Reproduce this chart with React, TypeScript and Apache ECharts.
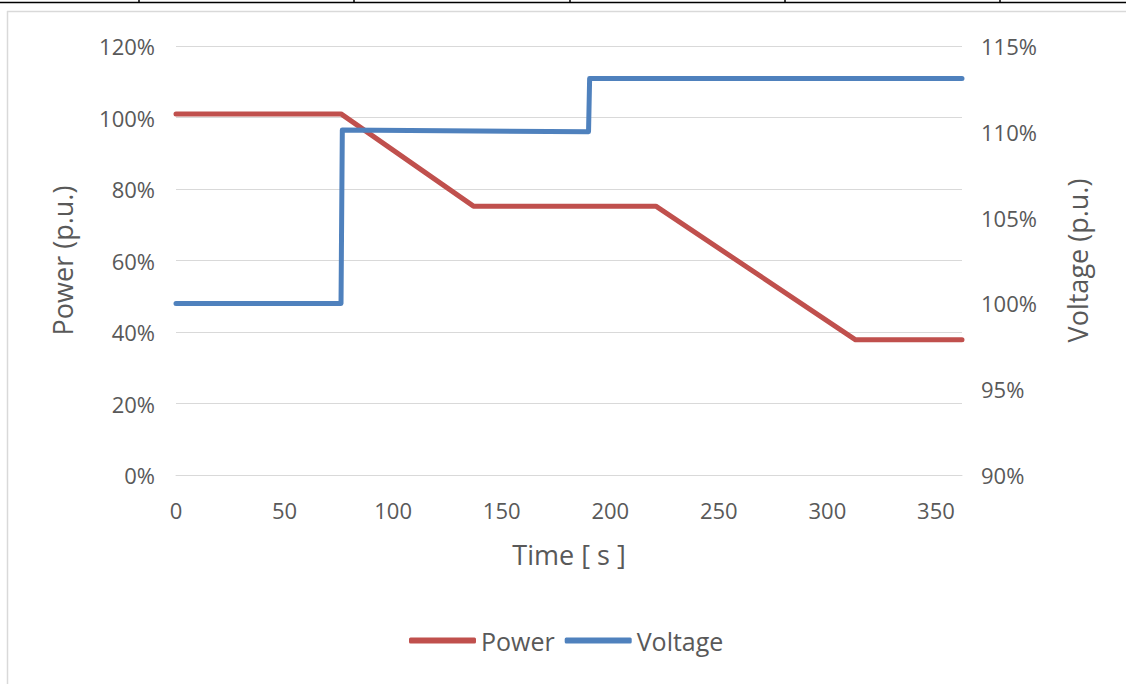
import React, { useEffect, useRef } from "react";
import * as echarts from "echarts";

const xTicks = [0, 50, 100, 150, 200, 250, 300, 350];
const powerTime = [0, 76, 137, 221, 313, 362];
const powerValues = [101, 101, 75.2, 75.2, 37.8, 37.8];
const voltageTime = [0, 76, 76.6, 190, 190.5, 362];
const voltageValues = [100, 100, 110.1, 110, 113.1, 113.1];
const powerTicks = [0, 20, 40, 60, 80, 100, 120];
const voltageTicks = [90, 95, 100, 105, 110, 115];

const FONT = "'Open Sans', sans-serif";
const TEXT = "#595959";
const GRID = "#D9D9D9";

export default function App() {
  const ref = useRef<HTMLDivElement>(null);
  useEffect(() => {
    if (!ref.current) return;
    const chart = echarts.init(ref.current, undefined, { renderer: "svg" });
    const power = powerTime.map((t, i) => [t, powerValues[i]]);
    const voltage = voltageTime.map((t, i) => [t, voltageValues[i]]);
    const tableX = [139, 354, 570, 785, 1000];
    chart.setOption({
      animation: false,
      backgroundColor: "#ffffff",
      textStyle: { fontFamily: FONT },
      graphic: [
        {
          type: "line",
          shape: { x1: 7, y1: 11.5, x2: 1126, y2: 11.5 },
          style: { stroke: "#D9D9D9", lineWidth: 1.5 },
          silent: true,
        },
        {
          type: "line",
          shape: { x1: 7.5, y1: 11, x2: 7.5, y2: 684 },
          style: { stroke: "#D9D9D9", lineWidth: 1.5 },
          silent: true,
        },
        {
          type: "line",
          shape: { x1: 0, y1: 2.5, x2: 1126, y2: 2.5 },
          style: { stroke: "#000", lineWidth: 1.5 },
          silent: true,
        },
        ...tableX.map((x) => ({
          type: "line",
          shape: { x1: x, y1: 0, x2: x, y2: 3 },
          style: { stroke: "#000", lineWidth: 1.5 },
          silent: true,
        })),
      ],
      grid: { left: 176, right: 164, top: 46, bottom: 209, containLabel: false },
      legend: {
        left: 404,
        top: 623,
        icon: "roundRect",
        itemWidth: 67,
        itemHeight: 6,
        itemGap: 10,
        textStyle: { color: TEXT, fontSize: 25, fontFamily: FONT },
        data: ["Power", "Voltage"],
      },
      xAxis: {
        type: "value",
        min: 0,
        max: 362,
        interval: 50,
        name: "Time [ s ]",
        nameLocation: "middle",
        nameGap: 66,
        nameTextStyle: { color: TEXT, fontSize: 27, fontFamily: FONT },
        axisLine: { show: true, lineStyle: { color: GRID, width: 1 } },
        axisTick: { show: false },
        splitLine: { show: false },
        axisLabel: {
          color: TEXT,
          fontSize: 22,
          fontFamily: FONT,
          margin: 24,
          showMaxLabel: false,
          formatter: (v: number) => (xTicks.includes(v) ? String(v) : ""),
        },
      },
      yAxis: [
        {
          type: "value",
          min: powerTicks[0],
          max: powerTicks[powerTicks.length - 1],
          interval: 20,
          name: "Power (p.u.)",
          nameLocation: "middle",
          nameGap: 100,
          nameTextStyle: { color: TEXT, fontSize: 27, fontFamily: FONT },
          axisLine: { show: false },
          axisTick: { show: false },
          splitLine: { show: true, lineStyle: { color: GRID, width: 1 } },
          axisLabel: {
            color: TEXT,
            fontSize: 22,
            fontFamily: FONT,
            margin: 21,
            formatter: (v: number) => `${v}%`,
          },
        },
        {
          type: "value",
          min: voltageTicks[0],
          max: voltageTicks[voltageTicks.length - 1],
          interval: 5,
          name: "Voltage (p.u.)",
          nameLocation: "middle",
          nameGap: 102,
          nameTextStyle: { color: TEXT, fontSize: 27, fontFamily: FONT },
          axisLine: { show: false },
          axisTick: { show: false },
          splitLine: { show: false },
          axisLabel: {
            color: TEXT,
            fontSize: 22,
            fontFamily: FONT,
            margin: 19,
            formatter: (v: number) => `${v}%`,
          },
        },
      ],
      series: [
        {
          name: "Power",
          type: "line",
          yAxisIndex: 0,
          data: power,
          showSymbol: false,
          symbol: "none",
          color: "#C0504D",
          lineStyle: { color: "#C0504D", width: 5, cap: "round", join: "round" },
        },
        {
          name: "Voltage",
          type: "line",
          yAxisIndex: 1,
          data: voltage,
          showSymbol: false,
          symbol: "none",
          color: "#4F81BD",
          lineStyle: { color: "#4F81BD", width: 5, cap: "round", join: "round" },
        },
      ],
    });
    return () => chart.dispose();
  }, []);
  return (
    <div
      ref={ref}
      style={{ position: "absolute", left: 0, top: 0, width: 1126, height: 684 }}
    />
  );
}
